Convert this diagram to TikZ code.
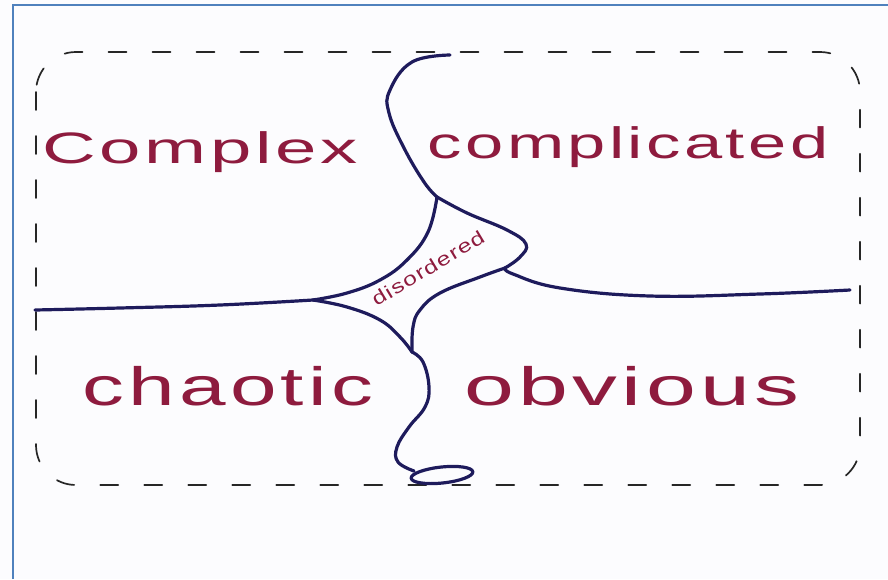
\documentclass[tikz,border=0pt]{standalone}
\usepackage{fontspec}
\setmainfont{Liberation Sans}
\newfontfamily\handfont[LetterSpace=5]{Liberation Sans}
\definecolor{inkblue}{HTML}{1E1B5C}
\definecolor{wine}{HTML}{8E1B3E}
\definecolor{frameblue}{HTML}{4F81BD}
\definecolor{paper}{HTML}{FCFCFE}

\begin{document}
\begin{tikzpicture}[x=1pt, y=-1pt,
  ink/.style={draw=inkblue, line width=3.2pt, line cap=round, line join=round},
  rim/.style={draw=black!85, line width=1.7pt, line cap=round, dash pattern=on 18pt off 26pt, rounded corners=40pt},
  quad/.style={text=wine, anchor=base, font=\handfont\fontsize{44}{48}\selectfont},
  tag/.style={text=wine, font=\handfont\fontsize{19}{21}\selectfont}]
\fill[paper] (0,0) rectangle (888,579);
\useasboundingbox (0,0) rectangle (888,579);
\draw[frameblue, line width=2.6pt] (13,579) -- (13,5) -- (888,5);
\draw[rim] (36,52) rectangle (860,485);

\coordinate (fork) at (437,197);
\coordinate (west) at (313,300);
\coordinate (east) at (505,268);
\coordinate (south) at (412,352);

\draw[ink] plot[smooth, tension=0.7] coordinates {(450,55) (412,62) (390,90) (389,113) (404,148) (424,182) (fork)};
\draw[ink] plot[smooth, tension=0.7] coordinates {(fork) (428,232) (407,260) (380,280) (347,293) (west)};
\draw[ink] plot[smooth, tension=0.7] coordinates {(fork) (467,213) (507,230) (526,244) (520,257) (east)};
\draw[ink] plot[smooth, tension=0.7] coordinates {(east) (513,274) (560,288) (650,296) (760,294) (850,290)};
\draw[ink] plot[smooth, tension=0.7] coordinates {(35,310) (120,308) (220,305) (west)};
\draw[ink] plot[smooth, tension=0.7] coordinates {(west) (347,307) (380,320) (400,337) (south)};
\draw[ink] plot[smooth, tension=0.7] coordinates {(east) (480,277) (440,293) (420,310) (413,327) (south)};
\draw[ink] plot[smooth, tension=0.7] coordinates {(south) (423,362) (429,387) (425,407) (409,427) (397,447) (398,462) (414,471)};
\draw[ink, rotate around={6:(442,475)}] (442,475) ellipse [x radius=31, y radius=8];

\node[quad] (complex) at (200,163) {\scalebox{1.69}[1]{Complex}};
\node[quad] (complicated) at (628,158) {\scalebox{1.56}[1]{complicated}};
\node[quad, font=\handfont\fontsize{54}{58}\selectfont] (chaotic) at (228,405) {\scalebox{1.55}[1]{chaotic}};
\node[quad, font=\handfont\fontsize{54}{58}\selectfont] (obvious) at (632,405) {\scalebox{1.66}[1]{obvious}};
\node[tag, rotate=31, inner sep=0pt] (disorder) at (428,268) {\scalebox{1.3}[1]{disordered}};
\end{tikzpicture}
\end{document}
